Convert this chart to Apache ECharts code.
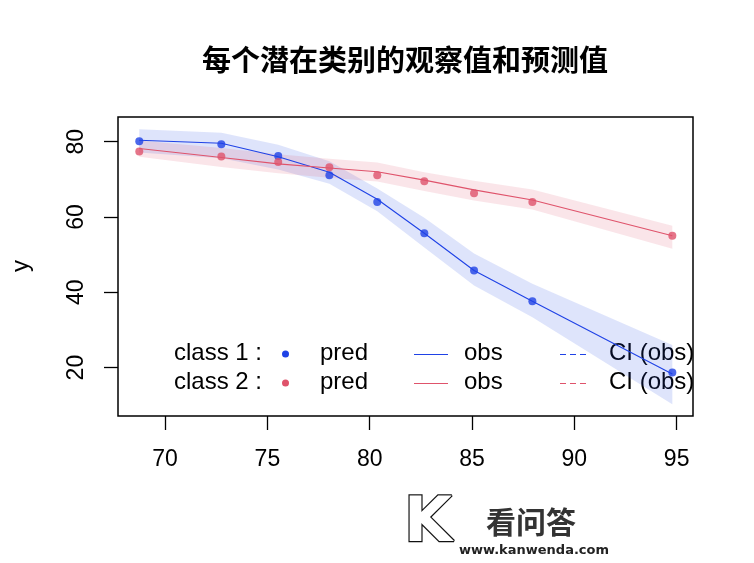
<!DOCTYPE html>
<html>
<head>
<meta charset="utf-8">
<script src="https://cdn.jsdelivr.net/npm/echarts@6/dist/echarts.min.js"></script>
<style>
html,body{margin:0;padding:0;background:#fff;}
#chart{width:754px;height:563px;}
</style>
</head>
<body>
<div id="chart"></div>
<script>
// ---- data ----
const xVals      = [68.74, 72.75, 75.53, 78.03, 80.37, 82.67, 85.10, 87.95, 94.79];
const predClass1 = [80.1, 79.3, 76.2, 71.1, 64.0, 55.7, 45.8, 37.6, 18.7];
const predClass2 = [77.4, 76.1, 74.6, 73.2, 71.1, 69.5, 66.3, 64.0, 55.0];
const obsClass1  = [80.4, 79.6, 76.0, 71.9, 64.7, 55.7, 45.8, 37.6, 18.3];
const obsClass2  = [78.2, 75.8, 74.1, 73.0, 72.0, 69.8, 67.2, 64.5, 55.0];
const ciUp1      = [83.3, 82.4, 79.2, 74.8, 67.6, 59.8, 50.3, 42.3, 26.0];
const ciLow1     = [77.1, 75.6, 72.6, 68.8, 61.5, 51.9, 41.8, 33.4, 10.3];
const ciUp2      = [80.3, 78.3, 76.7, 75.5, 74.5, 71.9, 69.6, 67.3, 57.7];
const ciLow2     = [76.0, 73.3, 71.6, 70.4, 69.4, 66.9, 64.4, 62.0, 51.6];
const xTicks     = [70, 75, 80, 85, 90, 95];
const yTicks     = [20, 40, 60, 80];
const titleText  = '每个潜在类别的观察值和预测值';

const BLUE = '#1F42E6';
const RED = '#DF536B';
const FONT = '"Liberation Sans", Arial, sans-serif';

function pairs(ys) { return xVals.map((x, i) => [x, ys[i]]); }

function bandSeries(up, low, color) {
  return {
    type: 'custom',
    coordinateSystem: 'cartesian2d',
    data: [[xVals[0], up[0]]],
    silent: true,
    renderItem: function (params, api) {
      const pts = [];
      for (let i = 0; i < xVals.length; i++) pts.push(api.coord([xVals[i], up[i]]));
      for (let i = xVals.length - 1; i >= 0; i--) pts.push(api.coord([xVals[i], low[i]]));
      return { type: 'polygon', shape: { points: pts }, style: { fill: color, stroke: null } };
    },
    z: 1
  };
}

const chart = echarts.init(document.getElementById('chart'), null, { renderer: 'canvas' });

const legendRows = [
  { y: 354, label: 'class 1 :', color: BLUE },
  { y: 383, label: 'class 2 :', color: RED }
];
const graphics = [];
legendRows.forEach(r => {
  graphics.push({ type: 'text', left: 174, top: r.y - 13, style: { text: r.label, font: '24px ' + FONT, fill: '#000' } });
  graphics.push({ type: 'circle', shape: { cx: 285.5, cy: r.y, r: 3.5 }, style: { fill: r.color } });
  graphics.push({ type: 'text', left: 320, top: r.y - 13, style: { text: 'pred', font: '24px ' + FONT, fill: '#000' } });
  graphics.push({ type: 'line', shape: { x1: 414, y1: r.y + 0.5, x2: 448, y2: r.y + 0.5 }, style: { stroke: r.color, lineWidth: 1 } });
  graphics.push({ type: 'text', left: 464, top: r.y - 13, style: { text: 'obs', font: '24px ' + FONT, fill: '#000' } });
  graphics.push({ type: 'line', shape: { x1: 560, y1: r.y + 0.5, x2: 590, y2: r.y + 0.5 }, style: { stroke: r.color, lineWidth: 1, lineDash: [6, 4] } });
  graphics.push({ type: 'text', left: 609, top: r.y - 13, style: { text: 'CI (obs)', font: '24px ' + FONT, fill: '#000' } });
});
// y axis title
graphics.push({ type: 'text', x: 21, y: 266, rotation: Math.PI / 2,
  style: { text: 'y', font: '24px ' + FONT, fill: '#000', align: 'center', verticalAlign: 'middle' } });
// title
graphics.push({ type: 'text', x: 405, y: 60,
  style: { text: titleText, font: 'bold 29px "Noto Sans CJK SC", sans-serif', fill: '#000', align: 'center', verticalAlign: 'middle' } });
// watermark
graphics.push({ type: 'text', x: 428, y: 525,
  style: { text: 'K', font: 'bold 62px "DejaVu Sans", sans-serif', fill: '#fff', stroke: '#111', lineWidth: 2.5, align: 'center', verticalAlign: 'middle' } });
graphics.push({ type: 'text', x: 531, y: 522,
  style: { text: '看问答', font: 'bold 30px "Noto Sans CJK SC", sans-serif', fill: '#333', align: 'center', verticalAlign: 'middle' } });
graphics.push({ type: 'text', x: 534, y: 551,
  style: { text: 'www.kanwenda.com', font: 'bold 13px "DejaVu Sans", sans-serif', fill: '#222', align: 'center', verticalAlign: 'middle' } });

chart.setOption({
  animation: false,
  backgroundColor: '#fff',
  grid: { left: 118, right: 61, top: 117, bottom: 147, show: true, borderColor: '#000', borderWidth: 1.5, backgroundColor: 'transparent', z: 10 },
  xAxis: {
    type: 'value', min: 67.70, max: 95.80,
    axisLine: { show: false },
    splitLine: { show: false },
    axisTick: { show: true, length: 14, customValues: xTicks, lineStyle: { color: '#000', width: 1.3 } },
    axisLabel: { customValues: xTicks, margin: 32, color: '#000', fontSize: 23, fontFamily: FONT }
  },
  yAxis: {
    type: 'value', min: 7.15, max: 86.56,
    axisLine: { show: false },
    splitLine: { show: false },
    axisTick: { show: true, length: 14, customValues: yTicks, lineStyle: { color: '#000', width: 1.3 } },
    axisLabel: { customValues: yTicks, margin: 30, rotate: 90, color: '#000', fontSize: 23, fontFamily: FONT }
  },
  graphic: graphics,
  series: [
    bandSeries(ciUp1, ciLow1, 'rgba(35,71,229,0.15)'),
    bandSeries(ciUp2, ciLow2, 'rgba(223,83,107,0.15)'),
    { type: 'line', data: pairs(obsClass1), symbol: 'none', lineStyle: { color: BLUE, width: 1.1 }, z: 3 },
    { type: 'line', data: pairs(obsClass2), symbol: 'none', lineStyle: { color: RED, width: 1.1 }, z: 3 },
    { type: 'scatter', data: pairs(predClass1), symbol: 'circle', symbolSize: 8, itemStyle: { color: BLUE }, z: 4 },
    { type: 'scatter', data: pairs(predClass2), symbol: 'circle', symbolSize: 8, itemStyle: { color: RED }, z: 4 }
  ]
});
</script>
</body>
</html>
